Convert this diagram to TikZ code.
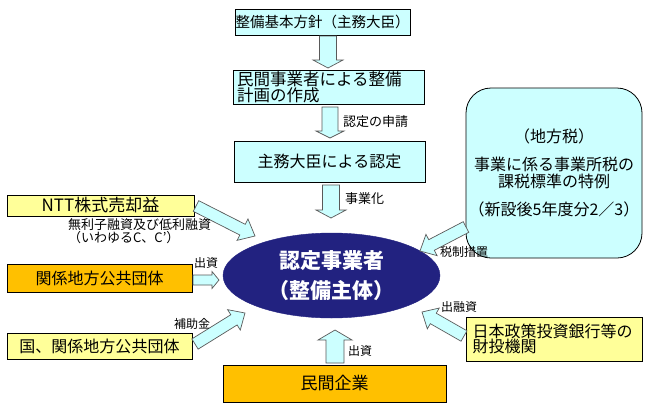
\documentclass[tikz,border=0pt]{standalone}
\usepackage{fontspec}
\setmainfont{Noto Sans CJK JP}
\usetikzlibrary{calc,shapes.geometric}
\definecolor{lcyan}{HTML}{CCFFFF}
\definecolor{lyellow}{HTML}{FFFF99}
\definecolor{orng}{HTML}{FFC000}
\definecolor{navy}{HTML}{222280}
% from, to, shaft half width, head half width, head length
\newcommand\blockarrow[5]{%
  \coordinate (#2-h) at ($(#2)!#5!(#1)$);
  \draw[barrow] ($(#1)!#3!90:(#2)$) -- ($(#2-h)!#3!90:(#2)$) -- ($(#2-h)!#4!90:(#2)$) -- (#2)
    -- ($(#2-h)!#4!-90:(#2)$) -- ($(#2-h)!#3!-90:(#2)$) -- ($(#1)!#3!-90:(#2)$) -- cycle;}
\tikzset{
  box/.style={draw=black, line width=0.8pt, inner sep=0pt, align=center},
  bigtxt/.style={font=\fontsize{16}{17}\selectfont},
  lbl/.style={font=\fontsize{12}{12}\selectfont, inner sep=0pt},
  mlbl/.style={font=\fontsize{13}{13}\selectfont, inner sep=0pt},
  barrow/.style={draw=black!65, fill=lcyan, line width=0.7pt},
}
\begin{document}
\begin{tikzpicture}[x=1pt,y=-1pt]
\useasboundingbox (0,0) rectangle (650,405);
% boxes
\node[box, fill=lcyan, minimum width=175pt, minimum height=26pt, font=\fontsize{14.5}{15}\selectfont] (kihon) at (322.5,22) {整備基本方針（主務大臣）};
\node[box, fill=lcyan, minimum width=191pt, minimum height=34pt, text width=183pt, inner xsep=4pt, align=left, font=\fontsize{16.5}{16}\selectfont] (keikaku) at (328.5,87) {民間事業者による整備\\計画の作成};
\node[box, fill=lcyan, minimum width=191pt, minimum height=41pt, bigtxt] (nintei) at (329.5,161.5) {主務大臣による認定};
\node[ellipse, fill=navy, draw=navy, minimum width=217pt, minimum height=85pt, inner sep=0pt, text=white, align=center, font=\fontsize{21}{30}\selectfont\bfseries] (jigyo) at (331.5,275.5) {認定事業者\\（整備主体）};
\node[box, fill=lcyan, rounded corners=25pt, minimum width=176pt, minimum height=170pt, bigtxt] (zei) at (554,173) {（地方税）\\[11pt]事業に係る事業所税の\\課税標準の特例\\[11pt]（新設後5年度分2／3）};
\node[box, fill=lyellow, minimum width=187pt, minimum height=21pt, font=\fontsize{17}{17}\selectfont] (ntt) at (100.5,205.5) {NTT株式売却益};
\node[box, fill=orng, minimum width=185pt, minimum height=28pt, bigtxt] (chiho) at (99.5,278) {関係地方公共団体};
\node[box, fill=lyellow, minimum width=185pt, minimum height=26pt, bigtxt] (kuni) at (99.5,346) {国、関係地方公共団体};
\node[box, fill=orng, minimum width=223pt, minimum height=37pt, font=\fontsize{17}{17}\selectfont] (minkan) at (334.5,383.5) {民間企業};
\node[box, fill=lyellow, minimum width=176pt, minimum height=44pt, text width=163pt, inner xsep=6.5pt, align=left, font=\fontsize{16}{15.5}\selectfont] (dbj) at (554,339) {日本政策投資銀行等の\\財投機関};
% arrow end points
\coordinate (a1s) at (328,36);  \coordinate (a1e) at (328,68);
\coordinate (a2s) at (330,107); \coordinate (a2e) at (330,138);
\coordinate (a3s) at (331,185); \coordinate (a3e) at (331,218);
\coordinate (a4s) at (196,206); \coordinate (a4e) at (255,236);
\coordinate (a5s) at (193,280); \coordinate (a5e) at (219,280);
\coordinate (a6s) at (195,344); \coordinate (a6e) at (245,313);
\coordinate (a7s) at (335,363); \coordinate (a7e) at (335,330);
\coordinate (a8s) at (464,336); \coordinate (a8e) at (422,312);
\coordinate (a9s) at (466,227); \coordinate (a9e) at (420,251);
\blockarrow{a1s}{a1e}{8.5pt}{15pt}{8pt}
\blockarrow{a2s}{a2e}{8pt}{14pt}{7pt}
\blockarrow{a3s}{a3e}{8.5pt}{15pt}{8pt}
\blockarrow{a4s}{a4e}{6pt}{12pt}{14pt}
\blockarrow{a5s}{a5e}{5pt}{8.5pt}{7pt}
\blockarrow{a6s}{a6e}{6pt}{12pt}{13pt}
\blockarrow{a7s}{a7e}{9pt}{17pt}{10pt}
\blockarrow{a8s}{a8e}{6pt}{12pt}{13pt}
\blockarrow{a9s}{a9e}{6pt}{12pt}{13pt}
% labels
\node[mlbl, anchor=west] (l1) at (343,122) {認定の申請};
\node[mlbl, anchor=west] (l2) at (345,199) {事業化};
\node[lbl, anchor=west, align=left, font=\fontsize{13}{12}\selectfont] (l3) at (68,231) {無利子融資及び低利融資\\（いわゆるC、C’）};
\node[lbl] (l4) at (206,263) {出資};
\node[lbl] (l5) at (192,324) {補助金};
\node[lbl] (l6) at (360,351) {出資};
\node[lbl] (l7) at (459,307) {出融資};
\node[lbl] (l8) at (464,252) {税制措置};
\end{tikzpicture}
\end{document}
